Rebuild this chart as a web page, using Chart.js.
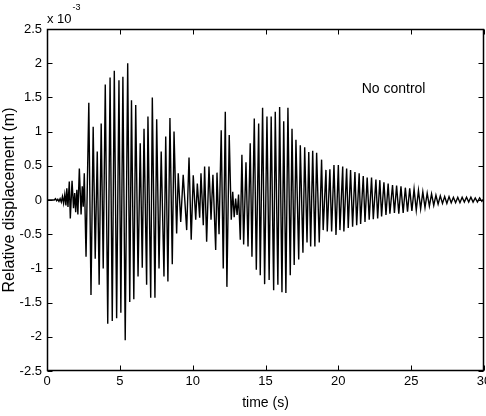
<!DOCTYPE html>
<html>
<head>
<meta charset="utf-8">
<script src="https://cdn.jsdelivr.net/npm/chart.js@4"></script>
<style>
    body { margin: 0; background: #fff; }
</style>
</head>
<body>
<canvas id="grafico" width="486" height="416"></canvas>
<script>
// peaks and troughs, time in s, displacement in 1e-3 m
var tiempo = [
    0, 0.50, 0.58, 0.66, 0.74, 0.82, 0.90, 0.98, 1.06, 1.14, 1.22, 1.30, 1.36, 1.44, 1.53, 1.60,
    1.72, 1.82, 1.90, 1.97, 2.05, 2.12, 2.22, 2.34, 2.42, 2.49,
    2.56, 2.68, 2.87, 3.02, 3.17, 3.31, 3.45, 3.58, 3.72, 3.86, 4.00, 4.17, 4.33, 4.48, 4.62, 4.78,
    4.94, 5.07, 5.21, 5.37, 5.54, 5.68, 5.80, 5.96,
    6.09, 6.25, 6.40, 6.54, 6.66, 6.84, 6.93, 7.12, 7.23, 7.41, 7.53, 7.69, 7.84, 8.03, 8.15, 8.30,
    8.44, 8.60, 8.72, 8.90, 9.01, 9.18, 9.35, 9.59, 9.75, 9.90, 10.04, 10.21, 10.32, 10.48, 10.57, 10.73,
    10.82, 10.96, 11.12, 11.26, 11.39, 11.58, 11.67, 11.81, 11.96, 12.10, 12.24, 12.35, 12.51, 12.65,
    12.75, 12.85, 12.95, 13.05, 13.15, 13.27, 13.38, 13.50, 13.66, 13.80, 13.95, 14.07, 14.23, 14.37, 14.53, 14.64,
    14.80, 14.94, 15.10, 15.25, 15.39, 15.56, 15.67, 15.85, 15.97, 16.13, 16.25, 16.40, 16.54, 16.70, 16.82, 16.97,
    17.09, 17.28, 17.39, 17.57, 17.69, 17.85, 17.97,
    18.10, 18.24, 18.39, 18.51, 18.69, 18.85, 18.96, 19.15, 19.24, 19.42, 19.54, 19.70, 19.84, 20.00, 20.11, 20.30,
    20.38, 20.57, 20.68, 20.84, 20.98, 21.14, 21.26, 21.43, 21.53, 21.71, 21.83, 21.98, 22.12, 22.28, 22.40, 22.58,
    22.70, 22.85, 22.97, 23.13, 23.27, 23.42, 23.54, 23.72, 23.85,
    24.00, 24.15, 24.30, 24.45, 24.60, 24.75, 24.90, 25.05, 25.20, 25.35, 25.50, 25.65, 25.80, 25.95, 26.10, 26.25,
    26.40, 26.55, 26.70, 26.85, 27.00, 27.15, 27.30, 27.45, 27.60, 27.75, 27.90, 28.05, 28.20, 28.35, 28.50, 28.65,
    28.80, 28.95, 29.10, 29.25, 29.40, 29.55, 29.70, 29.85, 29.95
];
var desplazamiento = [
    0, 0, 0.02, -0.01, 0.01, -0.02, 0.02, -0.03, 0.05, -0.05, 0.08, -0.08, 0.17, -0.10, 0.27, -0.27,
    0.28, -0.12, 0.10, -0.18, 0.15, -0.21, 0.46, -0.21, 0.20, -0.10,
    0.39, -0.83, 1.42, -1.39, 1.07, -0.86, 0.71, -1.24, 1.12, -1.00, 1.69, -1.81, 1.79, -1.77, 1.89, -1.73,
    1.75, -1.65, 1.80, -2.05, 2.00, -1.49, 1.46, -1.45,
    1.39, -1.12, 0.83, -0.99, 1.04, -1.24, 1.22, -1.43, 1.50, -1.43, 1.18, -1.00, 0.71, -1.12, 0.93, -1.19,
    1.20, -0.94, 1.00, -0.49, 0.39, -0.32, 0.37, -0.44, 0.62, -0.58, 0.36, -0.29, 0.24, -0.26, 0.39, -0.37,
    0.49, -0.61, 0.49, -0.29, 0.37, -0.73, 0.40, -0.50, 1.02, -1.00, 1.29, -1.27, 0.95, -0.29,
    0.12, -0.25, 0.02, -0.22, 0.08, -0.58, 0.66, -0.65, 0.55, -0.68, 0.83, -0.83, 1.19, -1.02, 1.12, -1.10,
    1.35, -1.23, 1.22, -1.17, 1.22, -1.32, 1.29, -1.24, 1.36, -1.35, 1.15, -1.36, 1.35, -1.10, 1.04, -0.95,
    0.88, -0.87, 0.80, -0.77, 0.77, -0.62, 0.70,
    -0.68, 0.72, -0.68, 0.69, -0.62, 0.59, -0.44, 0.44, -0.46, 0.45, -0.46, 0.51, -0.51, 0.51, -0.44, 0.49,
    -0.46, 0.46, -0.41, 0.44, -0.39, 0.41, -0.37, 0.39, -0.35, 0.35, -0.32, 0.33, -0.29, 0.33, -0.28, 0.30,
    -0.27, 0.29, -0.24, 0.26, -0.22, 0.24, -0.20, 0.22, -0.19,
    0.21, -0.20, 0.20, -0.19, 0.18, -0.17, 0.17, -0.16, 0.16, -0.15, 0.14, -0.13, 0.12, -0.11, 0.10, -0.09,
    0.09, -0.08, 0.07, -0.06, 0.06, -0.05, 0.05, -0.05, 0.05, -0.04, 0.04, -0.04, 0.04, -0.04, 0.04, -0.03,
    0.04, -0.03, 0.04, -0.03, 0.03, -0.03, 0.03, -0.02, 0.01
];
var xTicks = [0, 5, 10, 15, 20, 25, 30];
var yTicks = [-2.5, -2, -1.5, -1, -0.5, 0, 0.5, 1, 1.5, 2, 2.5];
var xTitulo = 'time (s)';
var yTitulo = 'Relative displacement (m)';
var etiqueta = 'No control';
var exponente = '-3';

var fuente = '"Liberation Sans", Arial, sans-serif';

var puntos = tiempo.map((t, i) => ({ x: t, y: desplazamiento[i] }));

// MATLAB style box: frame, inward ticks on all four sides, exponent and text label
var marcoMatlab = {
    id: 'marcoMatlab',
    afterDraw(chart) {
        var ctx = chart.ctx;
        var area = chart.chartArea;
        var sx = chart.scales.x;
        var sy = chart.scales.y;
        var l = Math.round(area.left) + 0.5;
        var r = Math.round(area.right) - 0.5;
        var t = Math.round(area.top) + 0.5;
        var b = Math.round(area.bottom) - 0.5;
        var largo = 5;

        ctx.save();
        ctx.strokeStyle = '#000';
        ctx.lineWidth = 1.5;
        ctx.strokeRect(l, t, r - l, b - t);

        ctx.lineWidth = 1;
        ctx.beginPath();
        xTicks.forEach(v => {
            var px = Math.round(sx.getPixelForValue(v)) + 0.5;
            ctx.moveTo(px, b); ctx.lineTo(px, b - largo);
            ctx.moveTo(px, t); ctx.lineTo(px, t + largo);
        });
        yTicks.forEach(v => {
            var py = Math.round(sy.getPixelForValue(v)) + 0.5;
            ctx.moveTo(l, py); ctx.lineTo(l + largo, py);
            ctx.moveTo(r, py); ctx.lineTo(r - largo, py);
        });
        ctx.stroke();

        ctx.fillStyle = '#000';
        ctx.textBaseline = 'alphabetic';
        ctx.textAlign = 'left';
        ctx.font = '13px ' + fuente;
        ctx.fillText('x 10', area.left, area.top - 6);
        var ancho = ctx.measureText('x 10').width;
        ctx.font = '9px ' + fuente;
        ctx.fillText(exponente, area.left + ancho + 1, area.top - 19);

        ctx.font = '14px ' + fuente;
        ctx.textBaseline = 'middle';
        ctx.fillText(etiqueta, sx.getPixelForValue(21.6), sy.getPixelForValue(1.62));
        ctx.restore();
    }
};

var ctxLinea = document.getElementById('grafico').getContext('2d');
new Chart(ctxLinea, {
    type: 'line',
    data: {
        datasets: [{
            label: etiqueta,
            data: puntos,
            borderColor: '#000',
            borderWidth: 1.4,
            pointRadius: 0,
            tension: 0,
            fill: false
        }]
    },
    options: {
        responsive: false,
        animation: false,
        devicePixelRatio: 1,
        layout: { padding: { top: 29, right: 2, left: 0, bottom: 0 } },
        plugins: {
            legend: { display: false },
            tooltip: { enabled: false }
        },
        scales: {
            x: {
                type: 'linear',
                min: 0,
                max: 30,
                afterBuildTicks: s => { s.ticks = xTicks.map(v => ({ value: v })); },
                afterFit: s => { s.height = 45; s.paddingLeft = 0; s.paddingRight = 0; },
                grid: { display: false, drawTicks: false },
                border: { display: false },
                ticks: {
                    color: '#000',
                    font: { family: fuente, size: 13 },
                    padding: 3,
                    maxRotation: 0,
                    autoSkip: false,
                    callback: v => String(v)
                },
                title: {
                    display: true,
                    text: xTitulo,
                    color: '#000',
                    font: { family: fuente, size: 14 },
                    padding: { top: 0, bottom: 4 }
                }
            },
            y: {
                type: 'linear',
                min: -2.5,
                max: 2.5,
                afterBuildTicks: s => { s.ticks = yTicks.map(v => ({ value: v })); },
                afterFit: s => { s.width = 47; s.paddingTop = 0; s.paddingBottom = 0; },
                grid: { display: false, drawTicks: false },
                border: { display: false },
                ticks: {
                    color: '#000',
                    font: { family: fuente, size: 13 },
                    padding: 5,
                    autoSkip: false,
                    callback: v => String(v)
                },
                title: {
                    display: true,
                    text: yTitulo,
                    color: '#000',
                    font: { family: fuente, size: 16 },
                    padding: { top: 0, bottom: 0 }
                }
            }
        }
    },
    plugins: [marcoMatlab]
});
</script>
</body>
</html>
